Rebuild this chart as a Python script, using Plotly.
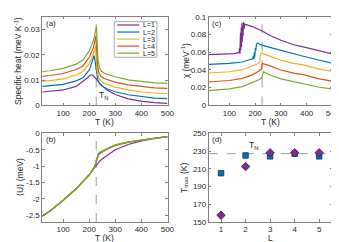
import plotly.graph_objects as go

TN = 227
colors = ["#7E2F8E", "#0072BD", "#EDB120", "#D95319", "#77AC30"]
labels = ["L=1", "L=2", "L=3", "L=4", "L=5"]

# (a) specific heat (meV/K)
T_c1 = [20, 50, 100, 150, 176, 190, 201, 208, 215, 222, 230, 240, 250, 270, 300, 350, 400, 450, 500]
C_1 = [.0053, .0055, .0061, .0075, .0093, .0106, .0117, .0121, .0119, .0112, .0101, .0088, .0077, .0060, .0043, .0026, .0017, .0011, .0008]
T_c2 = [20, 50, 100, 150, 176, 201, 210, 216, 219, 223, 228, 233, 240, 250, 270, 300, 350, 400, 450, 500]
C_2 = [.0075, .0077, .0083, .0097, .0109, .0141, .0165, .0188, .0197, .0172, .0128, .0100, .0086, .0076, .0065, .0054, .0042, .0034, .0029, .0027]
T_c3 = [20, 50, 100, 150, 176, 201, 216, 221, 224, 227, 231, 236, 245, 260, 300, 350, 400, 450, 500]
C_3 = [.0096, .0098, .0105, .0120, .0134, .0166, .0204, .0225, .0235, .0185, .0135, .0110, .0095, .0086, .0072, .0061, .0053, .0049, .0046]
T_c4 = [20, 50, 100, 150, 176, 201, 216, 222, 226, 229, 232, 237, 245, 260, 300, 350, 400, 450, 500]
C_4 = [.0115, .0118, .0126, .0142, .0156, .0191, .0228, .0255, .0276, .0215, .0160, .0130, .0115, .0105, .0092, .0081, .0074, .0069, .0067]
T_c5 = [20, 50, 100, 150, 176, 201, 216, 223, 228, 231, 234, 239, 247, 260, 300, 350, 400, 450, 500]
C_5 = [.0134, .0137, .0146, .0163, .0179, .0217, .0255, .0285, .0312, .0235, .0180, .0150, .0135, .0126, .0113, .0101, .0094, .0089, .0087]

# (b) mean energy <U> (meV)
T_u = [20, 50, 100, 150, 200, 215, 222, 227, 231, 235, 240, 250, 260, 275, 300, 350, 400, 450, 500]
U_1 = [-2.52, -2.37, -2.04, -1.69, -1.27, -1.10, -1.03, -0.97, -0.93, -0.89, -0.85, -0.78, -0.72, -0.63, -0.50, -0.34, -0.23, -0.16, -0.10]
U_2 = [-2.52, -2.37, -2.04, -1.69, -1.27, -1.10, -1.00, -0.88, -0.75, -0.67, -0.62, -0.56, -0.52, -0.46, -0.37, -0.27, -0.20, -0.15, -0.10]
U_3 = [-2.52, -2.37, -2.04, -1.69, -1.27, -1.10, -1.00, -0.86, -0.72, -0.64, -0.60, -0.55, -0.51, -0.45, -0.36, -0.27, -0.20, -0.15, -0.10]
U_4 = [-2.52, -2.37, -2.04, -1.69, -1.27, -1.10, -1.00, -0.85, -0.71, -0.63, -0.59, -0.54, -0.50, -0.45, -0.36, -0.27, -0.20, -0.15, -0.10]
U_5 = [-2.52, -2.37, -2.04, -1.69, -1.27, -1.10, -1.00, -0.84, -0.70, -0.62, -0.58, -0.53, -0.50, -0.44, -0.35, -0.26, -0.20, -0.15, -0.10]

# (c) susceptibility (1/meV)
T_x1 = [20, 60, 100, 120, 132, 136, 138, 140, 141, 143, 144, 146, 147, 149, 150, 152, 153, 155, 157, 159, 162, 175, 189, 227, 264, 300, 350, 387, 450, 500]
X_1 = [.0572, .0574, .0579, .0585, .0592, .0598, .0605, .0650, .0580, .0820, .0620, .0880, .0660, .0930, .0720, .0900, .0780, .0940, .0860, .0920, .0915, .0905, .0890, .0840, .0780, .0735, .0685, .0660, .0615, .0580]
T_x2 = [20, 60, 100, 150, 180, 190, 193, 195, 197, 199, 201, 203, 205, 210, 215, 227, 264, 300, 350, 387, 450, 500]
X_2 = [.0464, .0468, .0475, .0490, .0512, .0525, .0560, .0520, .0600, .0550, .0650, .0620, .0690, .0705, .0695, .0680, .0650, .0620, .0580, .0555, .0510, .0475]
T_x3 = [20, 60, 100, 150, 190, 205, 214, 218, 220, 223, 230, 250, 264, 300, 350, 387, 450, 500]
X_3 = [.0366, .0370, .0380, .0403, .0440, .0462, .0480, .0500, .0560, .0590, .0585, .0565, .0547, .0510, .0475, .0457, .0410, .0384]
T_x4 = [20, 60, 100, 150, 190, 215, 224, 227, 230, 250, 264, 300, 350, 387, 450, 500]
X_4 = [.0264, .0270, .0281, .0305, .0345, .0388, .0410, .0465, .0470, .0455, .0438, .0400, .0365, .0348, .0300, .0275]
T_x5 = [20, 60, 100, 150, 190, 215, 226, 229, 232, 250, 264, 300, 350, 387, 450, 500]
X_5 = [.0167, .0173, .0186, .0212, .0255, .0290, .0310, .0375, .0380, .0355, .0337, .0300, .0268, .0248, .0205, .0185]

# (d) Tmax vs L
L_vals = [1, 2, 3, 4, 5]
Tmax_C = [205, 225, 224, 227, 224]
Tmax_chi = [157.5, 212.5, 228, 228, 228]

# tick labels
a_ticks = [0, 0.01, 0.02, 0.03]
a_ticktext = ["0", "0.01", "0.02", "0.03"]
b_ticks = [0, -0.5, -1, -1.5, -2, -2.5]
b_ticktext = ["0", "-0.5", "-1", "-1.5", "-2", "-2.5"]
c_ticks = [0, 0.02, 0.04, 0.06, 0.08, 0.1]
c_ticktext = ["0", "0.02", "0.04", "0.06", "0.08", "0.1"]
d_ticks = [150, 170, 190, 210, 230, 250]
T_ticks = [100, 200, 300, 400, 500]
T_ticktext = ["100", "200", "300", "400", "500"]

FONT = "Liberation Sans, Arial, DejaVu Sans, sans-serif"
TXT = "#262626"
AX = "#808080"
FS = 8
TFS = 8.5

fig = go.Figure()

for T, C, col in zip([T_c1, T_c2, T_c3, T_c4, T_c5], [C_1, C_2, C_3, C_4, C_5], colors):
    fig.add_trace(go.Scatter(x=T, y=C, mode="lines", line=dict(color=col, width=1.2),
                             xaxis="x", yaxis="y", showlegend=False))
for U, col in zip([U_1, U_2, U_3, U_4, U_5], colors):
    fig.add_trace(go.Scatter(x=T_u, y=U, mode="lines", line=dict(color=col, width=1.2),
                             xaxis="x2", yaxis="y2", showlegend=False))
for T, X, col in zip([T_x1, T_x2, T_x3, T_x4, T_x5], [X_1, X_2, X_3, X_4, X_5], colors):
    fig.add_trace(go.Scatter(x=T, y=X, mode="lines", line=dict(color=col, width=1.2),
                             xaxis="x3", yaxis="y3", showlegend=False))

fig.add_trace(go.Scatter(x=L_vals, y=Tmax_C, mode="markers",
                         marker=dict(symbol="square", size=5.5, color="#0072BD",
                                     line=dict(color="#10304f", width=0.8)),
                         xaxis="x4", yaxis="y4", showlegend=False))
fig.add_trace(go.Scatter(x=L_vals, y=Tmax_chi, mode="markers",
                         marker=dict(symbol="diamond", size=6.5, color="#7E2F8E",
                                     line=dict(color="#3a1444", width=0.8)),
                         xaxis="x4", yaxis="y4", showlegend=False))

W, H = 339.0, 242.0
LX = [35 / W, 163 / W]
RX = [205 / W, 331.5 / W]
TY = [1 - 97 / H, 1 - 5 / H]
BY = [1 - 218 / H, 1 - 126 / H]

def xax(domain, anchor, rng, tv, tt):
    return dict(domain=domain, anchor=anchor, range=rng, tickvals=tv, ticktext=tt,
                showline=True, linecolor=AX, linewidth=0.8, mirror="allticks",
                ticks="inside", ticklen=2.5, tickcolor=AX, showgrid=False, zeroline=False,
                ticklabeloverflow="allow",
                tickfont=dict(family=FONT, size=FS, color=TXT))

def yax(domain, anchor, rng, tv, tt):
    return dict(domain=domain, anchor=anchor, range=rng, tickvals=tv, ticktext=tt,
                showline=True, linecolor=AX, linewidth=0.8, mirror="allticks",
                ticks="inside", ticklen=2.5, tickcolor=AX, showgrid=False, zeroline=False,
                ticklabeloverflow="allow",
                tickfont=dict(family=FONT, size=FS, color=TXT))

fig.update_layout(
    width=339, height=242, margin=dict(l=0, r=0, t=0, b=0),
    paper_bgcolor="white", plot_bgcolor="white",
    xaxis=xax(LX, "y", [20, 501], T_ticks, T_ticktext),
    yaxis=yax(TY, "x", [0, 0.035], a_ticks, a_ticktext),
    xaxis2=xax(LX, "y2", [20, 501], T_ticks, T_ticktext),
    yaxis2=yax(BY, "x2", [-2.7, 0], b_ticks, b_ticktext),
    xaxis3=xax(RX, "y3", [20, 501], T_ticks, T_ticktext),
    yaxis3=yax(TY, "x3", [0, 0.1], c_ticks, c_ticktext),
    xaxis4=xax(RX, "y4", [0.5, 5.55], L_vals, [str(v) for v in L_vals]),
    yaxis4=yax(BY, "x4", [150, 250], d_ticks, [str(v) for v in d_ticks]),
)

# axis titles as annotations
tfont = dict(family=FONT, size=TFS, color=TXT)
for txt, xc, yc in [("T (K)", 99, 114), ("T (K)", 99, 234.5), ("T (K)", 268, 114), ("L", 268, 234.5)]:
    fig.add_annotation(text=txt, xref="paper", yref="paper", x=xc / W, y=1 - yc / H,
                       xanchor="center", yanchor="middle", showarrow=False, font=tfont)
for txt, xc, yc in [("Specific heat (meV K<sup>-1</sup>)", 10, 51), ("\u27e8U\u27e9 (meV)", 12, 172),
                    ("\u03c7 (meV<sup>-1</sup>)", 181, 51), ("T<sub>max</sub> (K)", 180, 172)]:
    fig.add_annotation(text=txt, xref="paper", yref="paper", x=xc / W, y=1 - yc / H, textangle=-90,
                       xanchor="center", yanchor="middle", showarrow=False, font=tfont)

dash = dict(color="#9a9a9a", width=1, dash="dash")
for xr, yr in [("x", "y domain"), ("x2", "y2 domain"), ("x3", "y3 domain")]:
    fig.add_shape(type="line", xref=xr, yref=yr, x0=TN, x1=TN, y0=0, y1=1, line=dash, layer="below")
fig.add_shape(type="line", xref="x4 domain", yref="y4", x0=0, x1=1, y0=TN, y1=TN, line=dash, layer="below")

# panel labels
for lab, xr, yr in [("(a)", "x domain", "y domain"), ("(b)", "x2 domain", "y2 domain"),
                    ("(c)", "x3 domain", "y3 domain"), ("(d)", "x4 domain", "y4 domain")]:
    fig.add_annotation(text=lab, xref=xr, yref=yr, x=0.01, y=1.0, xanchor="left", yanchor="top",
                       showarrow=False, font=dict(family=FONT, size=FS, color=TXT))

fig.add_annotation(text="T<sub>N</sub>", xref="x", yref="y", x=230, y=0.0008, xanchor="left",
                   yanchor="bottom", showarrow=False, font=tfont)
fig.add_annotation(text="T<sub>N</sub>", xref="x4", yref="y4", x=2.35, y=228, xanchor="center",
                   yanchor="bottom", showarrow=False, font=tfont)

# manual legend in panel (a)
fig.add_shape(type="rect", xref="paper", yref="paper", x0=108.5 / W, x1=152 / W,
              y0=1 - 47 / H, y1=1 - 10 / H, line=dict(color="#999999", width=0.8),
              fillcolor="white", layer="above")
for i, (lab, col) in enumerate(zip(labels, colors)):
    yp = 1 - (13.5 + 7.3 * i) / H
    fig.add_shape(type="line", xref="paper", yref="paper", x0=111.5 / W, x1=134 / W,
                  y0=yp, y1=yp, line=dict(color=col, width=1.2), layer="above")
    fig.add_annotation(text=lab, xref="paper", yref="paper", x=135.5 / W, y=yp, xanchor="left",
                       yanchor="middle", showarrow=False, font=dict(family=FONT, size=7, color=TXT))

fig.write_html("out.html")
